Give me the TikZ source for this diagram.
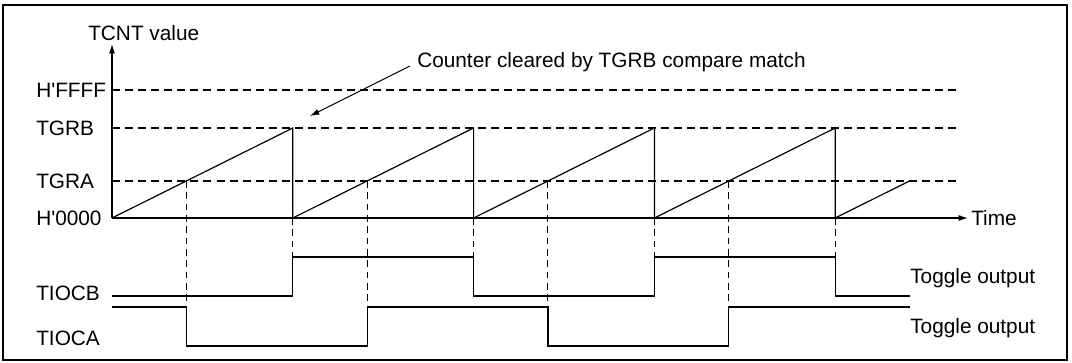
\documentclass[tikz,border=0pt]{standalone}
\usepackage{fontspec}
\setmainfont{Liberation Sans}
\usetikzlibrary{arrows.meta,calc,positioning}

\begin{document}
\begin{tikzpicture}[x=0.75pt,y=-0.75pt,
    font=\fontsize{15.6}{18}\selectfont,
    lbl/.style={inner sep=0pt,anchor=west},
    level/.style={dash pattern=on 6pt off 3.8pt,line width=0.9pt},
    guide/.style={dash pattern=on 5pt off 3.5pt,line width=0.8pt},
    wave/.style={line width=0.9pt},
    tip/.style={-{Latex[length=7pt,width=4.5pt]}}]
            \useasboundingbox (0,0) rectangle (1072,363);
            \draw[line width=1.6pt] (3,5) rectangle (1067,360);
            % Define points
            \coordinate (O) at (112,218);
            \coordinate (Top) at (112,44);
            \coordinate (End) at (968,218);
            \coordinate (Hit) at (310,116);
            % Label the levels
            \node[lbl] (tcnt) at (88,33) {TCNT value};
            \node[lbl] (hffff) at (36,90) {H\textquotesingle FFFF};
            \node[lbl] (tgrb) at (36,128) {TGRB};
            \node[lbl] (tgra) at (36,181) {TGRA};
            \node[lbl] (h0000) at (36,218) {H\textquotesingle 0000};
            \node[lbl] (time) at (971,218) {Time};
            \node[lbl] (tiocb) at (36,293) {TIOCB};
            \node[lbl] (tioca) at (36,338) {TIOCA};
            \node[lbl] (togb) at (910,278) {Toggle output};
            \node[lbl] (toga) at (910,328) {Toggle output};
            \node[lbl] (clear) at (417,62) {Counter cleared by TGRB compare match};
            % Axes
            \draw[wave,tip] (O) -- (Top);
            \draw[wave,tip] (O) -- (End);
            \draw[level] (hffff.east -| O) -- (958,90);
            \draw[level] (tgrb.east -| O) -- (958,128);
            \draw[level] (tgra.east -| O) -- (958,181);
            % Sawtooth
            \foreach \i in {0,1,2,3} {
              \draw[wave] ($(O)+(180.8*\i,0)$) -- ++(180.8,-90) -- ++(0,90);
              \draw[guide] ($(O)+(180.8*\i+74.3,-37)$) -- ++(0,126);
              \draw[guide] ($(O)+(180.8*\i+180.8,0)$) -- ++(0,39);
            }
            \draw[wave] ($(O)+(723.2,0)$) -- ++(74.3,-37);
            % Outputs
            \draw[wave] (112,296) -- (292.8,296) -- (292.8,257) -- (473.6,257)
              -- (473.6,296) -- (654.4,296) -- (654.4,257) -- (835.2,257)
              -- (835.2,296) -- (910,296);
            \draw[wave] (112,307) -- (186.3,307) -- (186.3,346) -- (367.1,346)
              -- (367.1,307) -- (547.9,307) -- (547.9,346) -- (728.7,346)
              -- (728.7,307) -- (910,307);
            % Callout
            \draw[line width=0.7pt,tip] ([shift={(-7,4)}]clear.west) -- (Hit);
\end{tikzpicture}
\end{document}
